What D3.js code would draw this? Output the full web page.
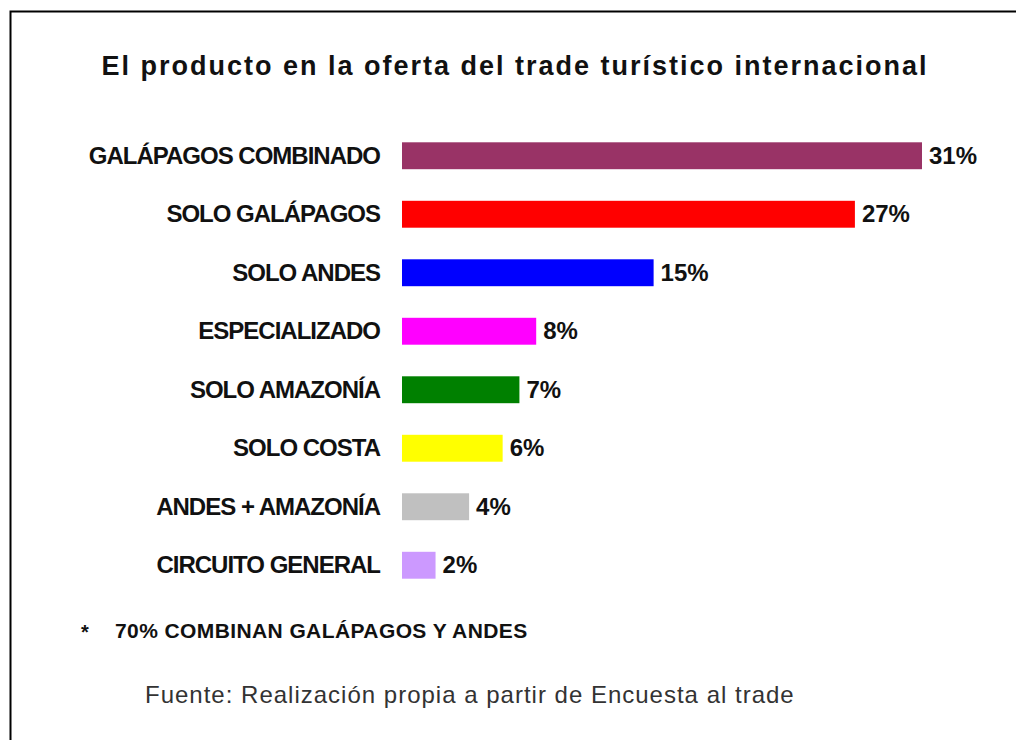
<!DOCTYPE html>
<html>
<head>
<meta charset="utf-8">
<script src="https://cdn.jsdelivr.net/npm/d3@7"></script>
<style>
  html, body { margin: 0; padding: 0; background: #fff; }
  svg { display: block; font-family: "Liberation Sans", Arial, sans-serif; }
</style>
</head>
<body>
<svg id="chart" width="1016" height="740"></svg>
<script>
// datos
const categorias = [
  "GALÁPAGOS COMBINADO", "SOLO GALÁPAGOS", "SOLO ANDES", "ESPECIALIZADO",
  "SOLO AMAZONÍA", "SOLO COSTA", "ANDES + AMAZONÍA", "CIRCUITO GENERAL"
];
const valores = [31, 27, 15, 8, 7, 6, 4, 2];
const colores = ["#993366", "#FF0000", "#0000FF", "#FF00FF", "#008000", "#FFFF00", "#C0C0C0", "#CC99FF"];

const titulo = "El producto en la oferta del trade turístico internacional";
const nota = "70% COMBINAN GALÁPAGOS Y ANDES";
const fuente = "Fuente: Realización propia a partir de Encuesta al trade";

const W = 1016, H = 740;
const svg = d3.select("#chart");

// marco (solo se ven borde izquierdo y superior)
svg.append("rect")
  .attr("x", 10.5).attr("y", 11.5)
  .attr("width", 1020).attr("height", 760)
  .attr("fill", "none")
  .attr("stroke", "#000")
  .attr("stroke-width", 2);

svg.append("text")
  .attr("x", 515).attr("y", 75)
  .attr("text-anchor", "middle")
  .attr("fill", "#111")
  .style("font-size", "27px")
  .style("font-weight", "bold")
  .style("letter-spacing", "2px")
  .text(titulo);

const x0 = 402;
const x = d3.scaleLinear().domain([0, 31]).range([x0, 922]);
const y = d3.scaleBand().domain(categorias).range([126.5, 594.5]).paddingInner(0.54).paddingOuter(0.27);

const g = svg.append("g");

g.selectAll("rect.bar")
  .data(categorias)
  .enter().append("rect")
  .attr("class", "bar")
  .attr("x", x(0))
  .attr("y", d => y(d))
  .attr("width", (d, i) => x(valores[i]) - x(0))
  .attr("height", y.bandwidth())
  .attr("fill", (d, i) => colores[i]);

// etiquetas de categoría
g.selectAll("text.cat")
  .data(categorias)
  .enter().append("text")
  .attr("class", "cat")
  .attr("x", 380)
  .attr("y", d => y(d) + y.bandwidth() / 2)
  .attr("dy", "0.33em")
  .attr("text-anchor", "end")
  .attr("fill", "#111")
  .style("font-size", "24px")
  .style("font-weight", "bold")
  .style("letter-spacing", "-1px")
  .text(d => d);

// valores
g.selectAll("text.val")
  .data(categorias)
  .enter().append("text")
  .attr("class", "val")
  .attr("x", (d, i) => x(valores[i]) + 7)
  .attr("y", d => y(d) + y.bandwidth() / 2)
  .attr("dy", "0.33em")
  .attr("fill", "#111")
  .style("font-size", "24px")
  .style("font-weight", "bold")
  .text((d, i) => valores[i] + "%");

svg.append("text")
  .attr("x", 81).attr("y", 639)
  .attr("fill", "#111")
  .style("font-size", "20px")
  .style("font-weight", "bold")
  .text("*");

svg.append("text")
  .attr("x", 115).attr("y", 638)
  .attr("fill", "#111")
  .style("font-size", "21px")
  .style("font-weight", "bold")
  .style("letter-spacing", "0.4px")
  .text(nota);

svg.append("text")
  .attr("x", 145).attr("y", 703)
  .attr("fill", "#333")
  .style("font-size", "24px")
  .style("letter-spacing", "1px")
  .text(fuente);
</script>
</body>
</html>
